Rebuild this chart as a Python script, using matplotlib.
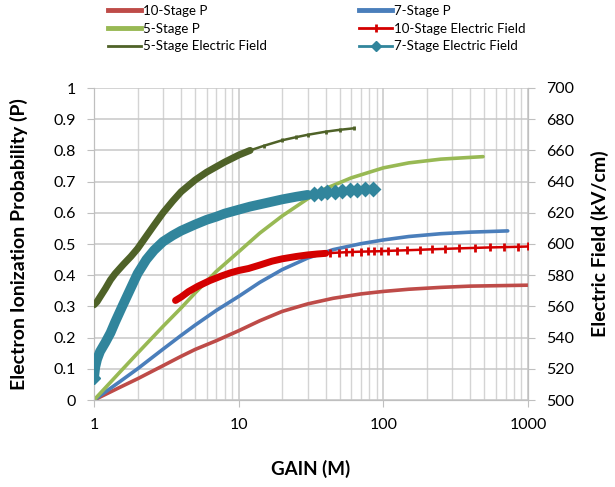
import matplotlib.pyplot as plt
from matplotlib.lines import Line2D

# --- data ---
# gain (M) vs electron ionization probability P (left axis)
gain_p10 = [1, 1.5, 2, 3, 4, 5, 7, 10, 14, 20, 30, 45, 70, 100, 150, 250, 400, 1000]
p_10 = [0.0, 0.04, 0.068, 0.11, 0.14, 0.162, 0.19, 0.222, 0.254, 0.284, 0.308, 0.326,
        0.34, 0.348, 0.355, 0.361, 0.365, 0.368]

gain_p7 = [1, 1.5, 2, 3, 4, 5, 7, 10, 14, 20, 30, 45, 70, 100, 150, 250, 400, 724]
p_7 = [0.0, 0.058, 0.10, 0.163, 0.207, 0.24, 0.287, 0.332, 0.377, 0.418, 0.455, 0.482,
       0.501, 0.513, 0.524, 0.533, 0.538, 0.542]

gain_p5 = [1, 1.5, 2, 3, 4, 5, 7, 10, 14, 20, 30, 40, 60, 100, 150, 250, 489]
p_5 = [0.0, 0.088, 0.15, 0.236, 0.295, 0.343, 0.412, 0.475, 0.535, 0.59, 0.645, 0.678,
       0.712, 0.744, 0.76, 0.772, 0.78]

# gain (M) vs electric field kV/cm (right axis)
gain_f5 = [1.0, 1.05, 1.1, 1.2, 1.3, 1.4, 1.6, 1.8, 2, 2.3, 2.6, 3, 3.5, 4, 5, 6, 7, 8,
           10, 12, 15, 20, 25, 30, 40, 50, 63]
field_5 = [561, 563, 566, 571.5, 577, 581, 587, 592, 597, 605, 612, 620, 627.5, 633.5, 641,
           646, 649.5, 652.5, 657, 660, 663, 666.5, 668.5, 670, 672, 673.2, 674.2]

gain_f7 = [1.0, 1.02, 1.05, 1.1, 1.2, 1.3, 1.4, 1.55, 1.74, 2.0, 2.3, 2.6, 3, 3.5, 4, 5, 6,
           7, 8, 10, 12, 15, 20, 25, 30,
           33, 37, 41, 46, 52, 59, 66, 75, 85]
field_7 = [514, 521, 526, 531, 537, 543, 550, 559, 569, 581, 590, 596, 601.5, 605.5, 608.5,
           612.5, 615.5, 617.5, 619.5, 622, 624, 626, 628.6, 630.3, 631.5,
           632.2, 632.7, 633.2, 633.6, 634.0, 634.4, 634.8, 635.2, 635.5]

gain_f10 = [3.66, 4, 4.5, 5.25, 6.3, 7.6, 8.76, 10, 11.7, 14, 17, 20, 25, 30, 35, 40,
            43, 49, 55, 61, 70, 78, 86, 96, 108, 125, 145, 179, 216, 268, 333, 428, 543,
            686, 850, 1000]
field_10 = [563.8, 566, 569.5, 573, 576.5, 579.5, 581.5, 583, 584.3, 586.5, 589, 590.5,
            592, 593, 593.6, 594,
            594.2, 594.5, 594.7, 594.9, 595.1, 595.2, 595.3, 595.4, 595.6, 595.8, 596.0,
            596.3, 596.6, 596.9, 597.2, 597.5, 597.8, 598.0, 598.2, 598.4]

c_p10 = '#BE4B48'
c_p7 = '#4A7EBB'
c_p5 = '#98B954'
c_f10 = '#D40000'
c_f5 = '#4F6228'
c_f7 = '#31859C'

plt.rcParams['font.family'] = ['Lato', 'DejaVu Sans']

fig = plt.figure(figsize=(6.15, 4.87), dpi=100)
ax = fig.add_axes([94/615, 1 - 400/487, 434/615, 312/487])
ax2 = ax.twinx()

# grid + axes style
ax.set_xscale('log')
ax.set_xlim(1, 1000)
ax.set_ylim(0, 1)
ax2.set_ylim(500, 700)
ax.set_yticks([i / 10 for i in range(11)])
ax.set_yticklabels(['0', '0.1', '0.2', '0.3', '0.4', '0.5', '0.6', '0.7', '0.8', '0.9', '1'])
ax2.set_yticks(range(500, 701, 20))
ax.set_xticks([1, 10, 100, 1000])
ax.set_xticklabels(['1', '10', '100', '1000'])
ax.grid(True, which='major', color='#C8C8C8', lw=1.1)
ax.grid(True, which='minor', axis='x', color='#D4D4D4', lw=1.0)
ax.tick_params(axis='x', which='minor', length=0)
ax.tick_params(axis='x', which='major', length=5, color='#BFBFBF', pad=8, labelsize=11.5)
ax.tick_params(axis='y', length=5, color='#BFBFBF', pad=8, labelsize=11.5)
ax2.tick_params(axis='y', length=5, color='#BFBFBF', pad=8, labelsize=11.5)
for a in (ax, ax2):
    for s in a.spines.values():
        s.set_color('#BFBFBF')
    a.spines['top'].set_visible(False)
ax.set_axisbelow(True)

# P curves
ax.plot(gain_p10, p_10, color=c_p10, lw=2.6, solid_capstyle='round', zorder=3)
ax.plot(gain_p7, p_7, color=c_p7, lw=2.6, solid_capstyle='round', zorder=3)
ax.plot(gain_p5, p_5, color=c_p5, lw=2.6, solid_capstyle='round', zorder=3)

# field curves: dense marker band at low gain, thin line + markers at the tail
def field(x, y, color, band_end, band_w, marker, ms):
    ax2.plot(x, y, color=color, lw=1.8, zorder=3)
    xb = [v for v in x if v <= band_end]
    ax2.plot(xb, y[:len(xb)], color=color, lw=band_w, solid_capstyle='round', zorder=3)
    ax2.plot(x[len(xb):], y[len(xb):], ls='none', marker=marker, ms=ms,
             color=color, mew=2, zorder=3)

field(gain_f5, field_5, c_f5, 14, 5, '|', 3)
field(gain_f7, field_7, c_f7, 30, 7, 'D', 6)
field(gain_f10, field_10, c_f10, 40, 5, '|', 6)
# lone first point of the 7-stage field series
ax2.plot(gain_f7[0], field_7[0], marker='D', ms=6, color=c_f7, zorder=3)

ax.set_xlabel('GAIN (M)', fontsize=13.5, fontweight='bold', labelpad=20)
ax.set_ylabel('Electron Ionization Probability (P)', fontsize=14, fontweight='bold', labelpad=18)
ax2.set_ylabel('Electric Field (kV/cm)', fontsize=14, fontweight='bold', labelpad=12)

handles = [
    Line2D([], [], color=c_p10, lw=3.5),
    Line2D([], [], color=c_p5, lw=3.5),
    Line2D([], [], color=c_f5, lw=2),
    Line2D([], [], color=c_p7, lw=3.5),
    Line2D([], [], color=c_f10, lw=2, marker='|', ms=6, mew=2),
    Line2D([], [], color=c_f7, lw=2, marker='D', ms=5),
]
labels = ['10-Stage P', '5-Stage P', '5-Stage Electric Field',
          '7-Stage P', '10-Stage Electric Field', '7-Stage Electric Field']
fig.legend(handles, labels, loc='upper left', bbox_to_anchor=(96/615, 1.015), ncol=2,
           frameon=False, fontsize=9.5, handlelength=2.5, handletextpad=0.15,
           columnspacing=7.0, labelspacing=0.45)

plt.savefig('out.png', dpi=100)
